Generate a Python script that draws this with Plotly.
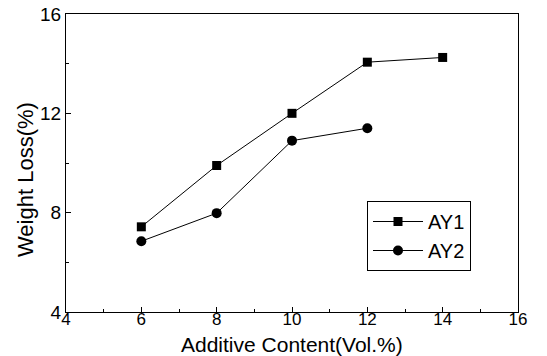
import plotly.graph_objects as go

x_ay1 = [6, 8, 10, 12, 14]
y_ay1 = [7.43, 9.9, 12.0, 14.06, 14.25]
x_ay2 = [6, 8, 10, 12]
y_ay2 = [6.85, 7.98, 10.9, 11.4]

fig = go.Figure()
fig.add_trace(go.Scatter(x=x_ay1, y=y_ay1, mode="lines+markers", name="AY1",
                         line=dict(color="black", width=1),
                         marker=dict(symbol="square", size=9, color="black")))
fig.add_trace(go.Scatter(x=x_ay2, y=y_ay2, mode="lines+markers", name="AY2",
                         line=dict(color="black", width=1),
                         marker=dict(symbol="circle", size=10, color="black")))

axis_common = dict(showgrid=False, zeroline=False, showline=True, linecolor="black",
                   linewidth=1, mirror=True, ticks="inside", ticklen=5, tickcolor="black",
                   automargin=False)
fig.update_xaxes(range=[4, 16], tickvals=[4, 6, 8, 10, 12, 14, 16],
                 minor=dict(tickvals=[5, 7, 9, 11, 13, 15], ticks="inside", ticklen=3, tickcolor="black"),
                 tickfont=dict(size=17, color="black"), ticklabelstandoff=-8, **axis_common)
fig.update_yaxes(range=[4, 16], tickvals=[4, 8, 12, 16],
                 minor=dict(tickvals=[6, 10, 14], ticks="inside", ticklen=3, tickcolor="black"),
                 tickfont=dict(size=19, color="black"), **axis_common)
fig.add_annotation(text="Additive Content(Vol.%)", xref="paper", yref="paper",
                   x=(292 - 66) / 452, y=(312 - 344) / 298, showarrow=False,
                   xanchor="center", yanchor="middle", font=dict(size=21, color="black"))
fig.add_annotation(text="Weight Loss(%)", xref="paper", yref="paper",
                   x=(25 - 66) / 452, y=(312 - 180) / 298, showarrow=False, textangle=-90,
                   xanchor="center", yanchor="middle", font=dict(size=22, color="black"))
fig.update_layout(width=547, height=356, margin=dict(l=66, r=29, t=14, b=44),
                  paper_bgcolor="white", plot_bgcolor="white",
                  font=dict(family="Liberation Sans, Arial, sans-serif", color="black"),
                  legend=dict(x=(367 - 66) / 452, y=(312 - 201) / 298, xanchor="left", yanchor="top",
                              bordercolor="black", borderwidth=1, bgcolor="white",
                              font=dict(size=20), itemwidth=50, tracegroupgap=0))
fig.write_html("out.html")
